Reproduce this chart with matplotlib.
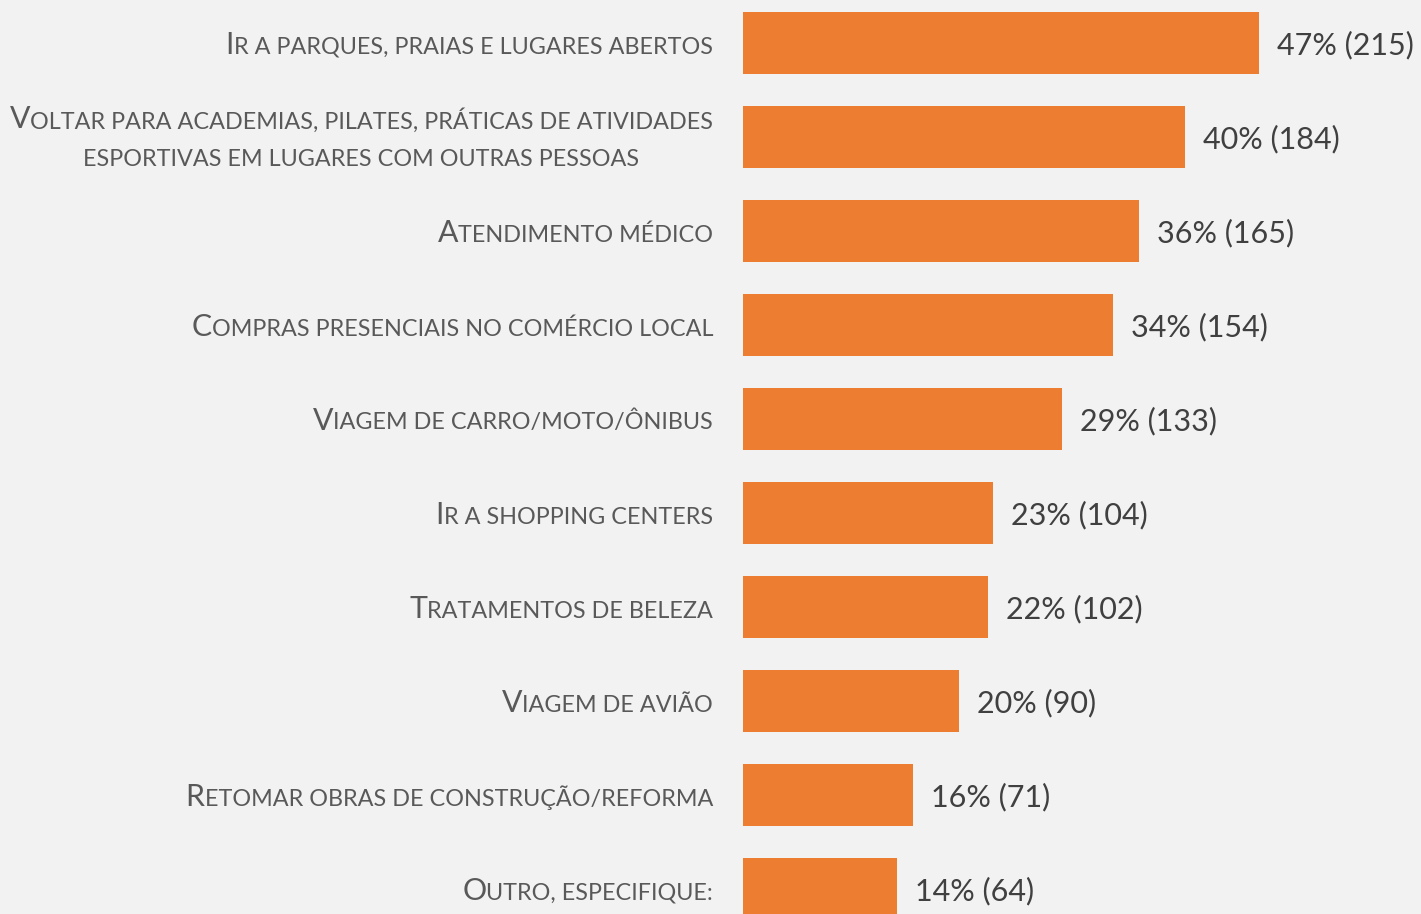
import matplotlib
matplotlib.use("Agg")
import matplotlib.pyplot as plt
import matplotlib.transforms as mtransforms
from matplotlib.font_manager import FontProperties

categories = [
    "Ir a parques, praias e lugares abertos",
    "Voltar para academias, pilates, práticas de atividades\nesportivas em lugares com outras pessoas",
    "Atendimento médico",
    "Compras presenciais no comércio local",
    "Viagem de carro/moto/ônibus",
    "Ir a shopping centers",
    "Tratamentos de beleza",
    "Viagem de avião",
    "Retomar obras de construção/reforma",
    "Outro, especifique:",
]
percents = [47, 40, 36, 34, 29, 23, 22, 20, 16, 14]
counts = [215, 184, 165, 154, 133, 104, 102, 90, 71, 64]

BG = "#F2F2F2"
BAR = "#ED7D31"
LABEL_C = "#595959"
VALUE_C = "#404040"
FAMILY = "Lato"
BIG = 21.8
SMALL = 16.8
VAL_SIZE = 22

W, H = 1421, 914
fig = plt.figure(figsize=(W / 100, H / 100), dpi=100, facecolor=BG)
ax = fig.add_axes([743 / W, 0, 1 - 743 / W, 1])
ax.set_facecolor(BG)
ypos = list(range(len(categories)))
ax.barh(ypos, counts, height=0.66, color=BAR)
ax.set_xlim(0, (W - 743) / 2.4)
ax.set_ylim((H - 43) / 94, -43 / 94)
ax.axis("off")

# value labels
for y, c, p in zip(ypos, counts, percents):
    ax.annotate(f"{p}% ({c})", xy=(c, y), xytext=(18, -2), textcoords="offset pixels",
                ha="left", va="center", fontsize=VAL_SIZE, color=VALUE_C, family=FAMILY)

renderer = fig.canvas.get_renderer()
fp_big = FontProperties(family=FAMILY, size=BIG)
fp_small = FontProperties(family=FAMILY, size=SMALL)


def width_of(s, fp):
    w1, _, _ = renderer.get_text_width_height_descent("I" + s + "I", fp, ismath=False)
    w0, _, _ = renderer.get_text_width_height_descent("II", fp, ismath=False)
    return w1 - w0


def runs_of(line):
    runs = []
    for ch in line:
        big = ch.isupper()
        if runs and runs[-1][1] == big:
            runs[-1][0] += ch
        else:
            runs.append([ch, big])
    return [(s if b else s.upper(), b) for s, b in runs]


base = mtransforms.blended_transform_factory(fig.transFigure, ax.transData)
RIGHT = 713 / W
LINE_SP = 38
CAP_HALF = 10.5

for y, label in zip(ypos, categories):
    lines = label.split("\n")
    line_runs = [runs_of(l) for l in lines]
    widths = [sum(width_of(s, fp_big if b else fp_small) for s, b in lr) for lr in line_runs]
    maxw = max(widths)
    n = len(lines)
    for k, (lr, w) in enumerate(zip(line_runs, widths)):
        start = -maxw / 2 - w / 2  # centered lines, block right aligned
        dy = -((k - (n - 1) / 2) * LINE_SP) - CAP_HALF
        x = start
        for s, b in lr:
            fp = fp_big if b else fp_small
            tr = mtransforms.offset_copy(base, fig=fig, x=x, y=dy, units="dots")
            fig.text(RIGHT, y, s, transform=tr, ha="left", va="baseline",
                     fontproperties=fp, color=LABEL_C)
            x += width_of(s, fp)

fig.savefig("out.png", dpi=100, facecolor=BG)
